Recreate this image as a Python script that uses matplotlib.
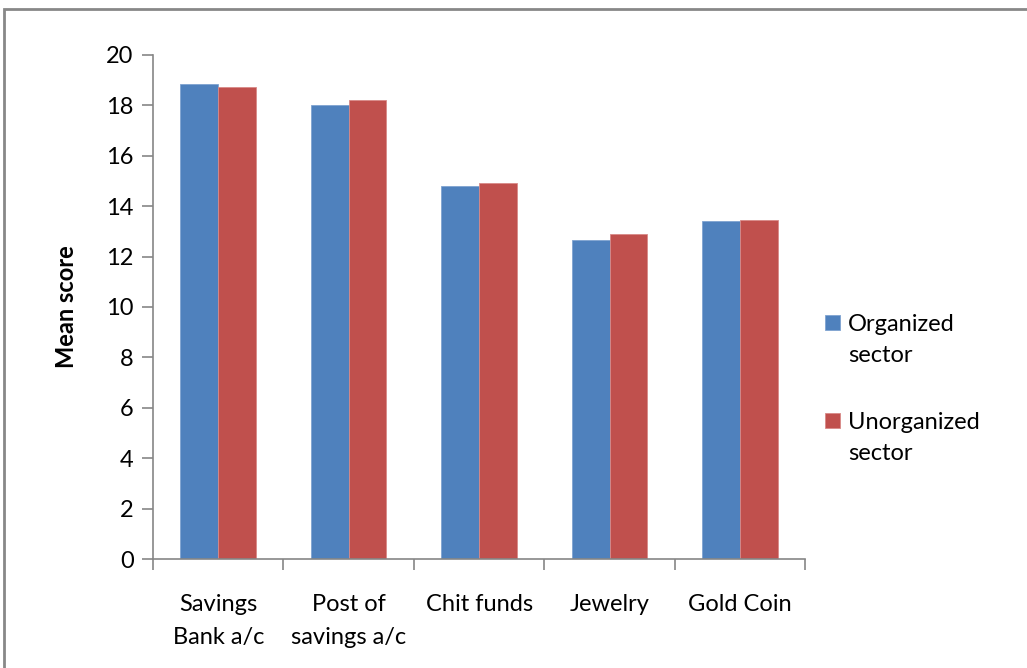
import numpy as np
import matplotlib
matplotlib.use("Agg")
import matplotlib.pyplot as plt
from matplotlib.patches import Rectangle
from matplotlib.legend_handler import HandlerPatch

plt.rcParams['font.family'] = ['Lato', 'DejaVu Sans']

categories = ["Savings\nBank a/c", "Post of\nsavings a/c", "Chit funds", "Jewelry", "Gold Coin"]
series = ["Organized\nsector", "Unorganized\nsector"]
organized = [18.84, 18.00, 14.79, 12.65, 13.40]
unorganized = [18.72, 18.20, 14.93, 12.88, 13.46]

fig = plt.figure(figsize=(10.27, 6.68), dpi=100)
ax = fig.add_axes([0.149, 0.163, 0.635, 0.755])

x = np.arange(len(categories))
w = 0.29
b1 = ax.bar(x - w / 2, organized, w, color="#4F81BD", edgecolor="#7FA3D0", linewidth=0.6)
b2 = ax.bar(x + w / 2, unorganized, w, color="#C0504D", edgecolor="#D88A88", linewidth=0.6)

ax.set_xlim(-0.5, len(categories) - 0.5)
ax.set_ylim(0, 20)
ax.set_yticks(range(0, 21, 2))
ax.tick_params(axis="y", labelsize=17, length=8, width=1.2, color="#868686", pad=6)
ax.set_xticks(x)
ax.set_xticklabels(categories, fontsize=17, linespacing=1.7)
ax.tick_params(axis="x", length=0, pad=25)
ax.set_xticks(np.arange(-0.5, len(categories)), minor=True)
ax.tick_params(axis="x", which="minor", length=8, width=1.2, color="#868686")

for side in ["top", "right"]:
    ax.spines[side].set_visible(False)
for side in ["left", "bottom"]:
    ax.spines[side].set_color("#868686")
    ax.spines[side].set_linewidth(1.2)

ax.set_ylabel("Mean score", fontsize=17, fontweight="bold", labelpad=20)


# legend square sits level with the first line of the two-line label
def top_square(legend, orig_handle, xdescent, ydescent, width, height, fontsize):
    return Rectangle((-xdescent, -ydescent + 0.76 * fontsize), width, height)


h1, h2 = b1[0], b2[0]
leg = ax.legend([h1, h2], series, loc="upper left", bbox_to_anchor=(825 / 1027, 1 - 314 / 668),
                bbox_transform=fig.transFigure, frameon=False, fontsize=17, borderpad=0,
                borderaxespad=0, handlelength=0.62, handleheight=0.62, handletextpad=0.35,
                labelspacing=1.95,
                handler_map={h1: HandlerPatch(patch_func=top_square),
                             h2: HandlerPatch(patch_func=top_square)})
for t in leg.get_texts():
    t.set_linespacing(1.6)

# outer gray frame around the chart area
fig.patches.append(Rectangle((4 / 1027, -0.05), 1.1, 0.05 + 659 / 668, transform=fig.transFigure,
                             fill=False, edgecolor="#888888", linewidth=2))

fig.savefig("out.png", dpi=100)
